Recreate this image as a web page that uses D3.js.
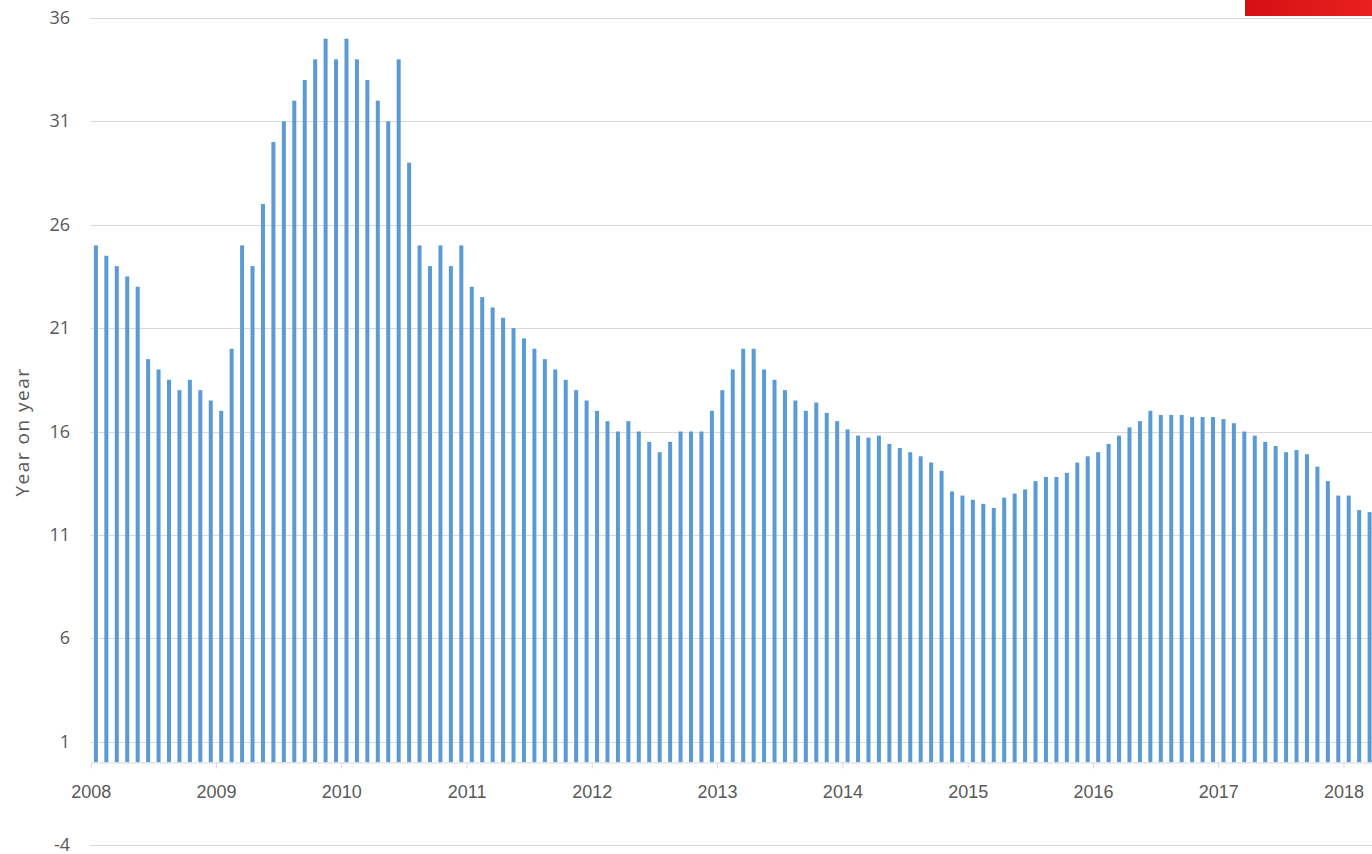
<!DOCTYPE html>
<html>
<head>
<meta charset="utf-8">
<script src="https://cdn.jsdelivr.net/npm/d3@7"></script>
<style>
  html, body { margin: 0; padding: 0; background: #fff; overflow: hidden; }
  svg { display: block; font-family: "Open Sans", "Noto Sans", sans-serif; }
  .grid line { stroke: #d9d9d9; stroke-width: 1; }
  .x-axis path, .x-axis line { stroke: #d9d9d9; }
  .x-axis text, .y-tick { fill: #595959; font-size: 18px; }
  .y-title { fill: #595959; font-size: 19px; letter-spacing: 1.5px; }
</style>
</head>
<body>
<div id="chart"></div>
<script>
/* ============================================================
   Monthly year-on-year growth, Jan 2008 - Mar 2018
   ============================================================ */

// -- Data ----------------------------------------------------
const years = [2008, 2009, 2010, 2011, 2012, 2013, 2014, 2015, 2016, 2017, 2018];

const y2008 = [25, 24.5, 24, 23.5, 23, 19.5, 19, 18.5, 18, 18.5, 18, 17.5];
const y2009 = [17, 20, 25, 24, 27, 30, 31, 32, 33, 34, 35, 34];
const y2010 = [35, 34, 33, 32, 31, 34, 29, 25, 24, 25, 24, 25];
const y2011 = [23, 22.5, 22, 21.5, 21, 20.5, 20, 19.5, 19, 18.5, 18, 17.5];
const y2012 = [17, 16.5, 16, 16.5, 16, 15.5, 15, 15.5, 16, 16, 16, 17];
const y2013 = [18, 19, 20, 20, 19, 18.5, 18, 17.5, 17, 17.4, 16.9, 16.5];
const y2014 = [16.1, 15.8, 15.7, 15.8, 15.4, 15.2, 15.0, 14.8, 14.5, 14.1, 13.1, 12.9];
const y2015 = [12.7, 12.5, 12.3, 12.8, 13.0, 13.2, 13.6, 13.8, 13.8, 14.0, 14.5, 14.8];
const y2016 = [15.0, 15.4, 15.8, 16.2, 16.5, 17.0, 16.8, 16.8, 16.8, 16.7, 16.7, 16.7];
const y2017 = [16.6, 16.4, 16.0, 15.8, 15.5, 15.3, 15.0, 15.1, 14.9, 14.3, 13.6, 12.9];
const y2018 = [12.9, 12.2, 12.1];

const yTicks = [-4, 1, 6, 11, 16, 21, 26, 31, 36];

const values = [].concat(y2008, y2009, y2010, y2011, y2012, y2013,
                         y2014, y2015, y2016, y2017, y2018);

// -- Layout ---------------------------------------------------
const width = 1372;
const height = 854;
const plotLeft = 90.7;
const monthW = 10.44;
const barW = 4;

const svg = d3.select("#chart")
  .append("svg")
  .attr("width", width)
  .attr("height", height);

const x = d3.scaleLinear()
  .domain([0, values.length])
  .range([plotLeft, plotLeft + values.length * monthW]);

const y = d3.scaleLinear()
  .domain([-4, 36])
  .range([845, 18]);

// -- Gridlines ------------------------------------------------
svg.append("g")
  .attr("class", "grid")
  .selectAll("line")
  .data(yTicks)
  .join("line")
  .attr("x1", plotLeft)
  .attr("x2", width)
  .attr("y1", (d) => Math.round(y(d)) + 0.5)
  .attr("y2", (d) => Math.round(y(d)) + 0.5);

// -- Y tick labels --------------------------------------------
svg.append("g")
  .selectAll("text")
  .data(yTicks)
  .join("text")
  .attr("class", "y-tick")
  .attr("x", 70)
  .attr("y", (d) => y(d))
  .attr("dy", "0.34em")
  .attr("text-anchor", "end")
  .text((d) => d);

// -- Bars -----------------------------------------------------
svg.append("g")
  .selectAll("rect")
  .data(values)
  .join("rect")
  .attr("x", (d, i) => x(i + 0.5) - barW / 2)
  .attr("width", barW)
  .attr("y", (d) => y(d))
  .attr("height", (d) => y(0) - y(d))
  .attr("fill", "#5b9bd5");

// -- X axis (year ticks at each January) ----------------------
svg.append("g")
  .attr("class", "x-axis")
  .attr("transform", `translate(0,${Math.round(y(0)) + 0.5})`)
  .call(
    d3.axisBottom(x)
      .tickValues(years.map((yr, i) => i * 12))
      .tickFormat((d, i) => years[i])
      .tickSizeInner(6)
      .tickSizeOuter(0)
      .tickPadding(17)
  )
  .call((g) => g.selectAll("text").attr("font-family", null));

// -- Y axis title ---------------------------------------------
svg.append("text")
  .attr("class", "y-title")
  .attr("transform", "translate(29,432) rotate(-90)")
  .attr("text-anchor", "middle")
  .text("Year on year");

// -- Red tab top right ----------------------------------------
const grad = svg.append("defs")
  .append("linearGradient")
  .attr("id", "redTab")
  .attr("x1", 0).attr("y1", 0).attr("x2", 1).attr("y2", 0);
grad.append("stop").attr("offset", "0%").attr("stop-color", "#d50f12");
grad.append("stop").attr("offset", "100%").attr("stop-color", "#e8201f");

svg.append("rect")
  .attr("x", 1245)
  .attr("y", 0)
  .attr("width", width - 1245)
  .attr("height", 16)
  .attr("fill", "url(#redTab)");
</script>
</body>
</html>
